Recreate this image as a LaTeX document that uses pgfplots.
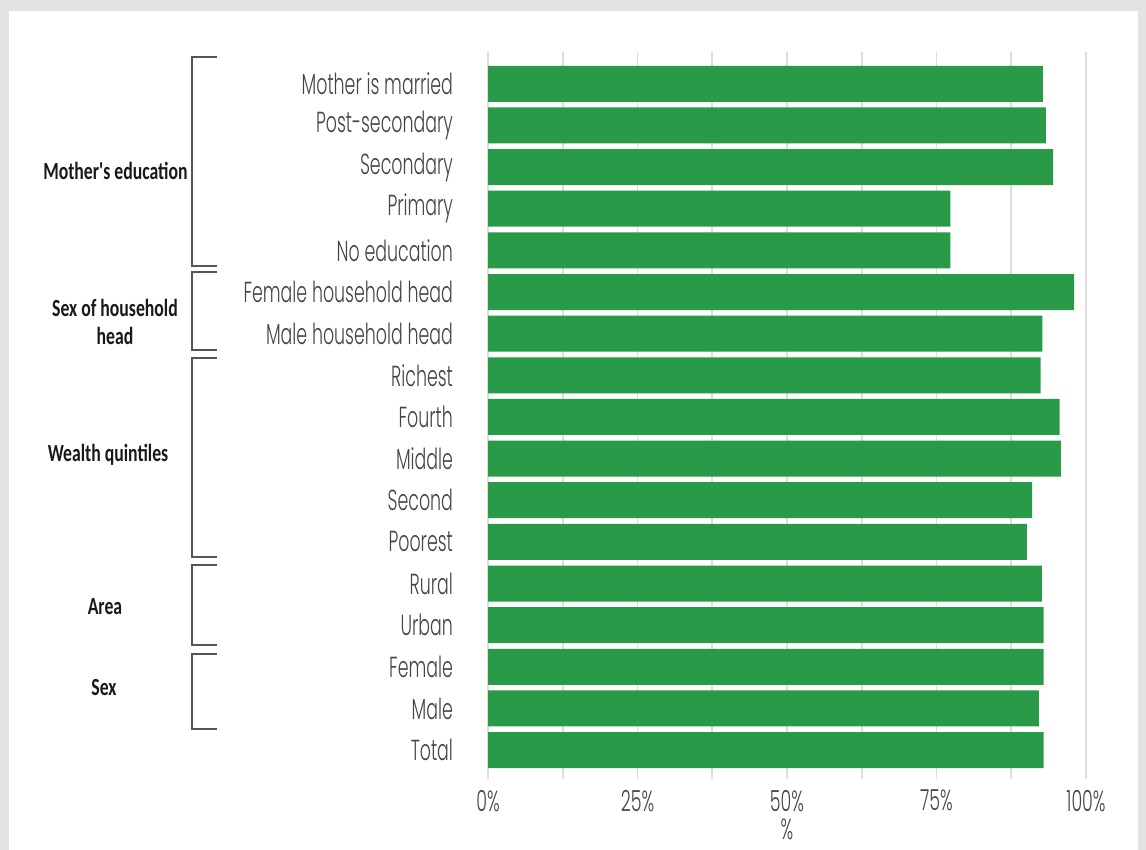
\documentclass[border=0pt]{standalone}
\usepackage{pgfplots}
\pgfplotsset{compat=1.18}
\usepackage{fontspec}
\setmainfont{Liberation Sans}
\newfontfamily\catfont{Poppins Light}[FakeStretch=0.6]
\newfontfamily\grpfont{Carlito}[FakeStretch=0.72]
\definecolor{barg}{HTML}{289A48}
\definecolor{gridc}{HTML}{DDDDDD}
\definecolor{txt}{HTML}{444444}
\definecolor{brk}{HTML}{555555}
\begin{document}
\begin{tikzpicture}
\fill[gray!22] (0pt,0pt) rectangle (573pt,425pt);
\fill[white] (4.5pt,0pt) rectangle (569pt,419.5pt);
\begin{axis}[
  at={(244pt,38.5pt)}, anchor=south west,
  scale only axis, width=299pt, height=357.5pt,
  xbar, bar width=18pt,
  xmin=0, xmax=100, ymin=-0.55, ymax=16.62,
  xtick={0,25,50,75,100},
  xticklabels={0\%,25\%,50\%,75\%,100\%},
  minor xtick={12.5,37.5,62.5,87.5},
  xmajorgrids, xminorgrids,
  major grid style={gridc, line width=0.8pt},
  minor grid style={gridc, line width=0.8pt},
  axis line style={draw=none},
  tick align=outside,
  xtick style={gridc, line width=0.8pt},
  major tick length=3pt, minor tick length=3pt,
  ytick={0,...,16},
  yticklabels={Total,Male,Female,Urban,Rural,Poorest,Second,Middle,Fourth,Richest,Male household head,Female household head,No education,Primary,Secondary,Post-secondary,Mother is married},
  ytick style={draw=none},
  yticklabel style={font=\catfont\fontsize{14.5}{15}\selectfont, text=txt, xshift=-11pt},
  xticklabel style={font=\catfont\fontsize{14.5}{15}\selectfont, text=txt, yshift=-2pt},
  xlabel={\%},
  xlabel style={font=\catfont\fontsize{14.5}{15}\selectfont, text=txt, yshift=3pt},
  clip=false,
]
\addplot[draw=none, fill=barg] coordinates {
(92.9,0) (92.1,1) (92.9,2) (92.9,3) (92.6,4)
(90.1,5) (91.0,6) (95.8,7) (95.6,8) (92.4,9)
(92.7,10) (98.0,11) (77.3,12) (77.3,13) (94.5,14)
(93.3,15) (92.8,16)
};
\end{axis}
\begin{scope}[brk, line width=1pt]
\draw (108.5pt,396.65pt) -- (96pt,396.65pt) -- (96pt,292pt) -- (108.5pt,292pt);
\draw (108.5pt,289.15pt) -- (96pt,289.15pt) -- (96pt,250pt) -- (108.5pt,250pt);
\draw (108.5pt,246pt) -- (96pt,246pt) -- (96pt,146.65pt) -- (108.5pt,146.65pt);
\draw (108.5pt,142.5pt) -- (96pt,142.5pt) -- (96pt,102.5pt) -- (108.5pt,102.5pt);
\draw (108.5pt,98pt) -- (96pt,98pt) -- (96pt,60.5pt) -- (108.5pt,60.5pt);
\end{scope}
\begin{scope}[every node/.style={font=\grpfont\bfseries\fontsize{12.3}{14}\selectfont, text=black!90}]
\node[anchor=east, inner sep=0pt] at (94pt,339.5pt) {Mother's education};
\node[align=center, inner sep=0pt] at (57.5pt,264pt) {Sex of household\\head};
\node[inner sep=0pt] at (54pt,197.5pt) {Wealth quintiles};
\node[inner sep=0pt] at (52.5pt,121.5pt) {Area};
\node[inner sep=0pt] at (52pt,81pt) {Sex};
\end{scope}
\useasboundingbox (0pt,0pt) rectangle (573pt,425pt);
\end{tikzpicture}
\end{document}
